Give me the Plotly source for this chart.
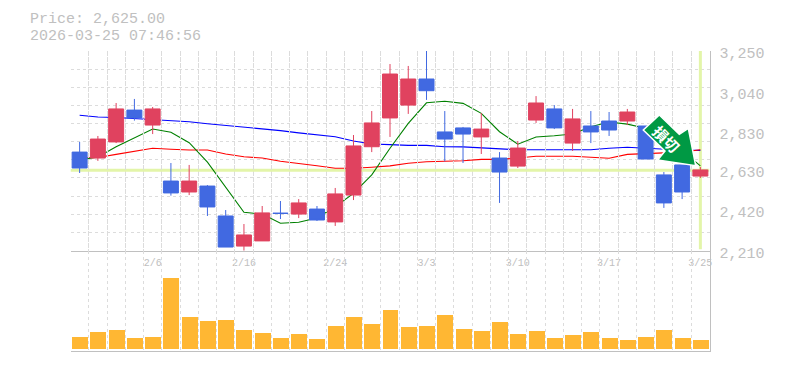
import plotly.graph_objects as go

dates = ["2/2","2/3","2/4","2/5","2/6","2/9","2/10","2/12","2/13","2/16","2/17","2/18","2/19","2/20","2/24","2/25","2/26","2/27",
         "3/2","3/3","3/4","3/5","3/6","3/9","3/10","3/11","3/12","3/13","3/16","3/17","3/18","3/19","3/23","3/24","3/25"]
open_ = [2723,2692,2776,2942,2864,2572,2515,2546,2390,2233,2260,2405,2400,2426,2359,2499,2751,2901,2968,3104,2828,2849,2802,2692,2650,2890,2948,2770,2859,2885,2885,2859,2604,2656,2598]
close = [2640,2791,2948,2901,2948,2510,2572,2437,2228,2291,2406,2403,2458,2369,2505,2755,2875,3130,3104,3043,2791,2817,2843,2619,2744,2979,2849,2896,2828,2838,2932,2687,2458,2515,2630]
high  = [2776,2807,2979,3000,2958,2666,2656,2551,2421,2348,2442,2468,2478,2442,2536,2812,2937,3182,3172,3290,2937,2854,2927,2723,2781,3015,2968,2948,2937,2932,2948,2859,2619,2656,2645]
low   = [2614,2677,2770,2887,2817,2496,2499,2390,2228,2207,2260,2374,2379,2364,2338,2473,2723,2802,2922,2995,2675,2666,2713,2458,2640,2875,2843,2729,2770,2807,2864,2687,2432,2478,2588]
ma_short = [2682,2697,2751,2796,2843,2826,2772,2671,2543,2409,2400,2352,2357,2379,2438,2508,2604,2743,2873,2980,2988,2977,2925,2829,2764,2802,2808,2817,2855,2880,2869,2847,2812,2734,2651]
ma_mid   = [2692,2695,2711,2727,2743,2738,2734,2734,2713,2699,2692,2675,2665,2652,2639,2639,2644,2651,2665,2673,2675,2678,2685,2685,2692,2701,2701,2701,2696,2691,2711,2715,2718,2723,2735]
ma_long  = [2915,2906,2903,2898,2894,2887,2881,2871,2863,2854,2843,2835,2823,2814,2803,2781,2765,2762,2758,2758,2751,2750,2744,2738,2735,2735,2735,2735,2735,2743,2748,2743,2738,2734,2732]
volume = [12,17,19,11,12,71,32,28,29,19,16,11,15,10,23,32,25,39,22,23,34,20,18,27,15,18,11,14,17,11,9,12,19,11,9]
price_ticks = [3250,3040,2830,2630,2420,2210]
current_price = 2628
header = ["Price: 2,625.00", "2026-03-25 07:46:56"]
arrow_label = "損切"

W, H = 785, 370
PAGE = 8  # the page's own body margin
LEFT, RIGHT = 70.5, 709.5
TOP, MID, BOT = 51, 250.5, 350.5
GRAY = "#c0c0c0"
GRID = "#dcdcdc"
FONT = "Liberation Mono"
n = len(dates)
xs = [i + 0.5 for i in range(n)]
def fx(p): return (p - PAGE) / W
def fy(p): return 1 - (p - PAGE) / H
xdom = [fx(LEFT), fx(RIGHT)]
ymin, ymax = 2210, 3250
grid_y = [ymin + (ymax - ymin) * i / 11 for i in range(12)]

fig = go.Figure()
fig.add_trace(go.Scatter(x=[0, n], y=[current_price]*2, mode="lines", line=dict(color="#e3f5a9", width=3), xaxis="x", yaxis="y", hoverinfo="skip"))
fig.add_trace(go.Scatter(x=[xs[-1]]*2, y=[ymin+6, ymax], mode="lines", line=dict(color="#e3f5a9", width=3), xaxis="x", yaxis="y", hoverinfo="skip"))
for vals, col in ((ma_long, "#0000ff"), (ma_mid, "#ff0000"), (ma_short, "#008000")):
    fig.add_trace(go.Scatter(x=xs, y=vals, mode="lines", line=dict(color=col, width=1.1), xaxis="x", yaxis="y", hoverinfo="skip"))
fig.add_trace(go.Candlestick(x=xs, open=open_, high=high, low=low, close=close, xaxis="x", yaxis="y2",
    increasing=dict(line=dict(color="#e0425f", width=1), fillcolor="#e0425f"),
    decreasing=dict(line=dict(color="#4169e1", width=1), fillcolor="#4169e1"), whiskerwidth=0))
fig.add_trace(go.Bar(x=xs, y=volume, marker=dict(color="#ffb733", line=dict(width=0)), width=0.875, xaxis="x2", yaxis="y3", hoverinfo="skip"))
fig.add_trace(go.Scatter(x=[0], y=[ymin], mode="none", xaxis="x", yaxis="y4", hoverinfo="skip"))

grid = dict(showgrid=True, gridcolor=GRID, griddash="3px,3px", gridwidth=1)
fig.update_layout(
    width=W, height=H, margin=dict(l=0, r=0, t=0, b=0, autoexpand=False), autosize=False,
    paper_bgcolor="white", plot_bgcolor="rgba(0,0,0,0)", showlegend=False, bargap=0, boxgap=0.18, boxgroupgap=0,
    xaxis=dict(domain=xdom, range=[0, n], anchor="y", tickvals=xs[4::5], ticktext=dates[4::5], showgrid=False, zeroline=False,
               tickfont=dict(family=FONT, size=10, color=GRAY), ticks="", ticklabelstandoff=2,
               showline=True, linecolor=GRAY, linewidth=1, rangeslider=dict(visible=False),
               minor=dict(tickvals=list(range(n + 1)), ticks="", **grid)),
    xaxis2=dict(domain=xdom, range=[0, n], anchor="y3", tickvals=[], showgrid=False, zeroline=False,
                showline=True, linecolor=GRAY, linewidth=1,
                minor=dict(tickvals=list(range(n + 1)), ticks="", **grid)),
    yaxis=dict(domain=[fy(MID), fy(TOP)], range=[ymin, ymax], anchor="x", side="right", tickvals=[], zeroline=False,
               showline=True, linecolor=GRAY, linewidth=1,
               minor=dict(tickvals=grid_y, ticks="", **grid)),
    yaxis2=dict(overlaying="y", range=[ymin, ymax], anchor="x", side="right", showgrid=False, zeroline=False, showticklabels=False, ticks=""),
    yaxis3=dict(domain=[fy(BOT), fy(MID)], range=[-2, 98], anchor="x2", side="right", showgrid=False, zeroline=False, tickvals=[],
                showline=True, linecolor=GRAY, linewidth=1),
    yaxis4=dict(domain=[fy(MID + 2), fy(TOP + 2)], range=[ymin, ymax], anchor="x", side="right", tickvals=price_ticks, tickformat=",d",
                showgrid=False, zeroline=False, showline=False, ticks="", ticklabelstandoff=9,
                tickfont=dict(family=FONT, size=15, color=GRAY)),
)

# signal arrow, placed by paper position
body = [(659.3,115),(679.3,134.3),(688.3,128.3),(695.7,165.7),(657.7,160),(665,151),(643.3,130)]
path = "M " + " L ".join(f"{fx(px):.5f},{fy(py):.5f}" for px, py in body) + " Z"
fig.add_shape(type="path", xref="paper", yref="paper", path=path, fillcolor="#009944", line=dict(color="white", width=1.5), layer="above")
fig.add_annotation(x=fx(666.5), y=fy(138), xref="paper", yref="paper", xanchor="center", yanchor="middle",
                   text="<b>" + arrow_label + "</b>", showarrow=False, textangle=45,
                   font=dict(family="Noto Sans CJK JP", size=15, color="white"))
for txt, py in zip(header, (19.5, 36)):
    fig.add_annotation(x=fx(29), y=fy(py), xref="paper", yref="paper", xanchor="left", yanchor="middle", text=txt, showarrow=False,
                       borderpad=0, font=dict(family=FONT, size=15, color=GRAY))
fig.write_html("out.html", config=dict(displayModeBar=False))
